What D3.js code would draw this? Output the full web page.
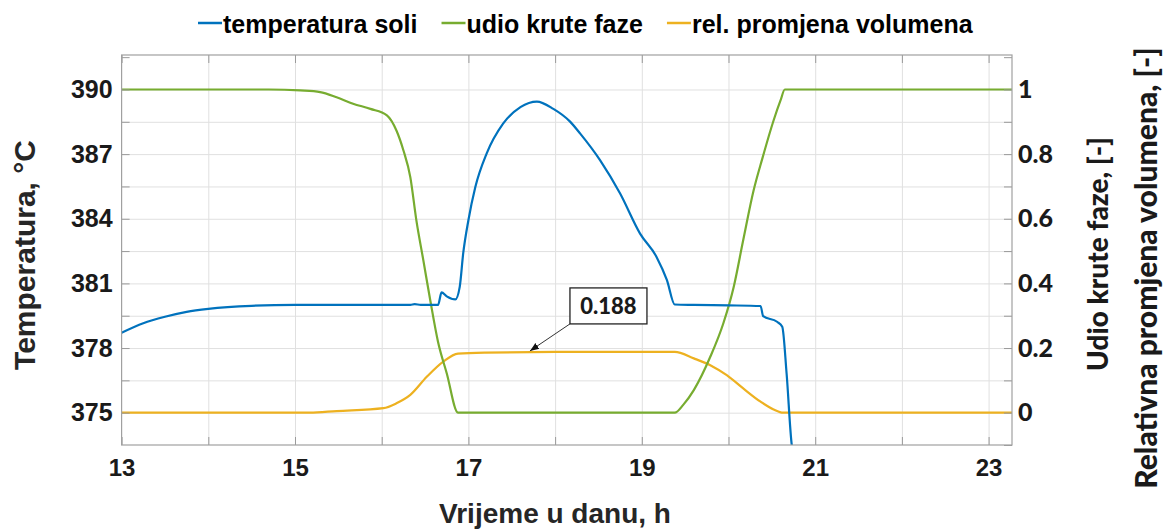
<!DOCTYPE html>
<html>
<head>
<meta charset="utf-8">
<script src="https://cdn.jsdelivr.net/npm/d3@7"></script>
<style>
body { margin: 0; background: #fff; }
svg text { font-family: "Liberation Sans", Arial, sans-serif; font-weight: bold; fill: #1a1a1a; }
.cal { font-family: Lato, "Open Sans", sans-serif !important; }
</style>
</head>
<body>
<script>
// temperatura soli (left axis, degC)
var tempTime = [13, 13.25, 13.5, 13.75, 14, 14.5, 15, 15.5, 16, 16.33, 16.38, 16.45, 16.65, 16.69, 16.75, 16.85,
  16.9, 16.94, 17.0, 17.08, 17.21, 17.4, 17.6, 17.79, 17.98, 18.17, 18.29, 18.52, 18.75, 18.98, 19.17, 19.29,
  19.38, 19.6, 20.0, 20.37, 20.40, 20.56, 20.62, 20.67, 20.73, 20.76];
var tempValues = [378.71, 379.15, 379.45, 379.68, 379.82, 379.96, 380.0, 380.0, 380.0, 380.0, 380.04, 380.0, 380.0, 380.58, 380.4, 380.26,
  380.84, 382.39, 383.93, 385.47, 387.02, 388.41, 389.18, 389.44, 389.1, 388.52, 387.95, 386.71, 385.17, 383.31, 382.23, 381.15,
  380.02, 380.0, 379.98, 379.95, 379.48, 379.22, 378.99, 376.83, 373.5, 373.0];

// udio krute faze (right axis)
var solidTime = [13, 14.7, 15.06, 15.29, 15.48, 15.67, 15.87, 16.06, 16.17, 16.25, 16.33, 16.40, 16.48, 16.56, 16.65, 16.75, 16.88,
  19.38, 19.48, 19.6, 19.79, 19.94, 20.06, 20.17, 20.29, 20.39, 20.52, 20.6, 20.65, 23.27];
var solidValues = [1, 1, 0.997, 0.992, 0.976, 0.956, 0.94, 0.92, 0.873, 0.812, 0.729, 0.595, 0.472, 0.348, 0.219, 0.122, 0,
  0, 0.025, 0.07, 0.173, 0.276, 0.389, 0.534, 0.688, 0.786, 0.904, 0.966, 1, 1];

// rel. promjena volumena (right axis)
var volTime = [13, 15.17, 15.48, 16.02, 16.17, 16.33, 16.52, 16.71, 16.88, 17.2, 18.0, 19.38, 19.6, 19.79, 19.98, 20.17, 20.37, 20.52, 20.63, 23.27];
var volValues = [0, 0, 0.005, 0.014, 0.029, 0.055, 0.111, 0.158, 0.183, 0.186, 0.188, 0.188, 0.168, 0.147, 0.116, 0.075, 0.034, 0.01, 0, 0];

var seriesNames = ['temperatura soli', 'udio krute faze', 'rel. promjena volumena'];
var seriesColors = ['#0072BD', '#77AC30', '#EDB120'];

var hourTicks = [13, 14, 15, 16, 17, 18, 19, 20, 21, 22, 23];
var tempTicks = [375, 376.5, 378, 379.5, 381, 382.5, 384, 385.5, 387, 388.5, 390, 391.5];
var fracTicks = [-0.1, 0, 0.1, 0.2, 0.3, 0.4, 0.5, 0.6, 0.7, 0.8, 0.9, 1, 1.1];

var dataTip = { t: 17.71, v: 0.188, label: '0.188' };

var margin = { top: 55, right: 151, bottom: 86, left: 121.6 };
var W = 1163, H = 531;
var width = W - margin.left - margin.right;
var height = H - margin.top - margin.bottom;

var x = d3.scaleLinear().domain([13, 23.27]).range([0, width]);
var yL = d3.scaleLinear().domain([373.5, 391.6]).range([height, 0]);
var yR = d3.scaleLinear().domain([-0.1, 1.1067]).range([height, 0]);

var svg = d3.select('body').append('svg')
    .attr('width', W)
    .attr('height', H);

var g = svg.append('g')
    .attr('transform', 'translate(' + margin.left + ',' + margin.top + ')');

g.append('clipPath').attr('id', 'clip')
  .append('rect').attr('width', width).attr('height', height);

// grid
g.append('g')
    .attr('class', 'grid')
    .attr('transform', 'translate(0,' + height + ')')
    .call(d3.axisBottom(x).tickValues(hourTicks.slice(1)).tickSize(-height).tickFormat(''));
g.append('g')
    .attr('class', 'grid')
    .call(d3.axisLeft(yR).tickValues(fracTicks.slice(1, -1)).tickSize(-width).tickFormat(''));
g.selectAll('.grid .domain').remove();
g.selectAll('.grid line').attr('stroke', '#e0e0e0').attr('stroke-width', 1);

// lines
var lineL = d3.line().x(function(d) { return x(d[0]); }).y(function(d) { return yL(d[1]); }).curve(d3.curveMonotoneX);
var lineR = d3.line().x(function(d) { return x(d[0]); }).y(function(d) { return yR(d[1]); }).curve(d3.curveMonotoneX);

var plot = g.append('g').attr('clip-path', 'url(#clip)');
plot.append('path')
    .datum(d3.zip(volTime, volValues))
    .attr('d', lineR)
    .attr('fill', 'none').attr('stroke', seriesColors[2]).attr('stroke-width', 2.2);
plot.append('path')
    .datum(d3.zip(solidTime, solidValues))
    .attr('d', lineR)
    .attr('fill', 'none').attr('stroke', seriesColors[1]).attr('stroke-width', 2.2);
plot.append('path')
    .datum(d3.zip(tempTime, tempValues))
    .attr('d', lineL)
    .attr('fill', 'none').attr('stroke', seriesColors[0]).attr('stroke-width', 2.2);

// axes (ticks point inward)
var xAxis = g.append('g')
    .attr('transform', 'translate(0,' + height + ')')
    .call(d3.axisBottom(x).tickValues(hourTicks).tickSize(-8).tickPadding(14)
      .tickFormat(function(d) { return d % 2 === 1 ? d : ''; }));
xAxis.selectAll('text').style('font-size', '24px');

g.append('g')
    .call(d3.axisTop(x).tickValues(hourTicks).tickSize(-8).tickFormat(''));

var leftAxis = g.append('g')
    .call(d3.axisLeft(yL).tickValues(tempTicks).tickSize(-8).tickPadding(9)
      .tickFormat(function(d) { return d % 3 === 0 ? d : ''; }));
leftAxis.selectAll('text').style('font-size', '25px');

var rightAxis = g.append('g')
    .attr('transform', 'translate(' + width + ',0)')
    .call(d3.axisRight(yR).tickValues(fracTicks).tickSize(-8).tickPadding(6)
      .tickFormat(function(d) {
        var k = Math.round(d * 10);
        return (k >= 0 && k % 2 === 0) ? d3.format('~g')(k / 10) : '';
      }));
rightAxis.selectAll('text').attr('class', 'cal').style('font-size', '25px').style('font-weight', '900');

g.selectAll('.domain').remove();
g.selectAll('.tick line:not(.grid .tick line)').attr('stroke', '#9a9a9a');

g.append('rect')
    .attr('width', width).attr('height', height)
    .attr('fill', 'none').attr('stroke', '#a0a0a0').attr('stroke-width', 1.2);

// data tip
var px = x(dataTip.t), py = yR(dataTip.v);
var bx = px + 40, by = py - 64, bw = 77, bh = 36;
svg.append('defs').append('marker')
    .attr('id', 'arrow').attr('viewBox', '0 0 10 10')
    .attr('refX', 10).attr('refY', 5)
    .attr('markerWidth', 9).attr('markerHeight', 9)
    .attr('orient', 'auto')
  .append('path').attr('d', 'M0,1L10,5L0,9Z').attr('fill', '#111');
g.append('line')
    .attr('x1', bx).attr('y1', by + bh)
    .attr('x2', px).attr('y2', py - 1)
    .attr('stroke', '#333').attr('stroke-width', 1)
    .attr('marker-end', 'url(#arrow)');
g.append('rect')
    .attr('x', bx).attr('y', by).attr('width', bw).attr('height', bh)
    .attr('fill', '#fff').attr('stroke', '#222').attr('stroke-width', 1.3);
g.append('text')
    .attr('class', 'cal')
    .attr('x', bx + bw / 2).attr('y', by + 26)
    .attr('text-anchor', 'middle')
    .style('font-size', '22px')
    .style('font-weight', '900')
    .text(dataTip.label);

// axis titles
svg.append('text')
    .attr('transform', 'translate(35,255) rotate(-90)')
    .attr('text-anchor', 'middle')
    .style('font-size', '30px')
    .style('fill', '#262626')
    .text('Temperatura, °C');
svg.append('text')
    .attr('x', 555).attr('y', 523)
    .attr('text-anchor', 'middle')
    .style('font-size', '28px')
    .style('fill', '#262626')
    .text('Vrijeme u danu, h');
svg.append('text')
    .attr('class', 'cal')
    .attr('transform', 'translate(1108,254) rotate(-90)')
    .attr('text-anchor', 'middle')
    .style('font-size', '28px')
    .style('font-weight', '900')
    .text('Udio krute faze, [-]');
svg.append('text')
    .attr('class', 'cal')
    .attr('transform', 'translate(1157,268) rotate(-90)')
    .attr('text-anchor', 'middle')
    .style('font-size', '30px')
    .style('font-weight', '900')
    .text('Relativna promjena volumena, [-]');

// legend
var legend = svg.append('g').attr('transform', 'translate(198,0)');
var lx = 0;
seriesNames.forEach(function(name, i) {
  legend.append('line')
      .attr('x1', lx).attr('x2', lx + 24)
      .attr('y1', 23).attr('y2', 23)
      .attr('stroke', seriesColors[i]).attr('stroke-width', 2.5);
  var t = legend.append('text')
      .attr('x', lx + 25).attr('y', 33)
      .style('font-size', '25px')
      .style('fill', '#000')
      .text(name);
  lx += 25 + t.node().getComputedTextLength() + 24;
});
</script>
</body>
</html>
